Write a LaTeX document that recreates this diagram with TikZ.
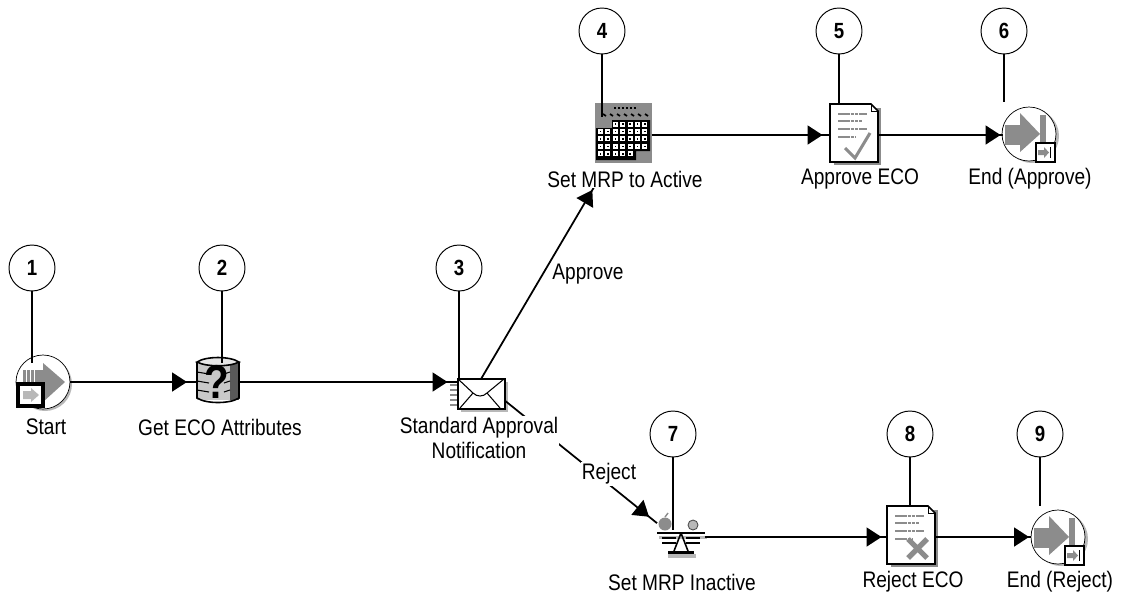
\documentclass[tikz,border=0pt]{standalone}
\usepackage{fontspec}
\setmainfont[FakeStretch=0.85]{Liberation Sans}
\usetikzlibrary{arrows.meta,decorations.markings}
\definecolor{icongray}{gray}{0.55}
\definecolor{shadegray}{gray}{0.72}
\tikzset{
    icon/.style={inner sep=0pt,outer sep=0pt,rectangle},
    callout/.style={draw,circle,line width=0.55pt,minimum size=0.92cm,inner sep=0pt,font=\fontsize{12.5}{12.5}\selectfont\bfseries},
    caption/.style={font=\fontsize{12.8}{14.2}\selectfont,align=center,fill=white,inner sep=0.6pt},
    pin/.style={line width=0.6pt},
    flow/.style={line width=1pt,postaction={decorate},decoration={markings,
        mark=at position -#1 with {\arrow{Triangle[length=0.3cm,width=0.38cm]}}}},
    pics/startico/.style={code={
        \fill[shadegray] (2,2) circle (27);
        \draw[fill=white,line width=0.4pt] (0,0) circle (27);
        \fill[icongray] (-20,-12) rectangle (0,8);
        \fill[icongray] (0,-19) -- (22,0) -- (0,20) -- cycle;
        \foreach \x in {-17,-13,-9} \draw[white,line width=0.5pt] (\x,-12) -- (\x,0);
        \draw[fill=white,line width=2pt] (-25,2) rectangle (0,24);
        \fill[shadegray] (-20,9) rectangle (-12,17) (-12,6) -- (-4,13) -- (-12,20) -- cycle;
    }},
    pics/endico/.style={code={
        \fill[shadegray] (3,2) circle (27);
        \draw[fill=white,line width=0.4pt] (0,0) circle (27);
        \fill[icongray] (-24,-9) rectangle (-8,11);
        \fill[icongray] (-9,-21) -- (11,0) -- (-9,18) -- cycle;
        \fill[icongray] (11,-19) rectangle (17,16);
        \draw[fill=white,line width=1.2pt] (7,9) rectangle (26,28);
        \fill[icongray] (9,16) rectangle (15,21) (15,13) -- (20,18.5) -- (15,24) -- cycle;
        \draw[line width=0.8pt] (21.5,13) -- (21.5,24);
    }},
    pics/dbico/.style={code={
        \fill[shadegray!75] (-21,-18) rectangle (21,20);
        \fill[black!65] (12,-18) rectangle (21,20);
        \foreach \y in {-8,1,10} \draw[line width=0.6pt] (-21,\y) -- (-9,\y+2);
        \foreach \y in {-8,1,10} \draw[line width=0.6pt] (6,\y+2) -- (12,\y);
        \draw[line width=0.9pt] (-21,-18) -- (-21,18) .. controls (-12,24) and (12,24) .. (21,18) -- (21,-18);
        \draw[fill=shadegray!35,line width=0.9pt] (-21,-18) .. controls (-12,-24) and (12,-24) .. (21,-18) .. controls (12,-13) and (-12,-13) .. cycle;
        \node[inner sep=0pt,font=\fontsize{27}{27}\selectfont\bfseries] (dbmark) at (-1,2) {?};
    }},
    pics/envico/.style={code={
        \fill[shadegray] (-20,-12) rectangle (27,18);
        \foreach \y in {-9,-4,1,6,11} \draw[icongray,line width=0.7pt] (-31,\y) -- (-23,\y);
        \draw[fill=white,line width=0.9pt] (-23,-15) rectangle (24,15);
        \draw[line width=0.6pt] (-23,-15) -- (-8,-1) .. controls (-4,3) and (2,3) .. (6,-1) -- (23,-15);
        \draw[line width=0.6pt] (-21,14) -- (-8,-1) (19,14) -- (6,-1);
    }},
    pics/calico/.style={code={
        \fill[icongray] (-28,-30) rectangle (29,30);
        \fill[black] (-11,-13) rectangle (27,-5) (-27,-5) rectangle (27,18) (-27,18) rectangle (13,27);
        \foreach \c in {0,...,6} \foreach \r in {1,2,3}
            \fill[white] (-25+\c*7.4,-4+\r*7.4-7.4) rectangle ++(5,5);
        \foreach \c in {2,...,6} \fill[white] (-25+\c*7.4,-11.4) rectangle ++(5,5);
        \foreach \c in {0,...,4} \fill[white] (-25+\c*7.4,18.2) rectangle ++(5,5);
        \foreach \c in {0,...,6} \foreach \r in {1,2,3}
            \fill[black] (-23.2+\c*7.4,-2.2+\r*7.4-7.4) rectangle ++(1.6,1.6);
        \foreach \c in {2,...,6} \fill[black] (-23.2+\c*7.4,-9.6) rectangle ++(1.6,1.6);
        \foreach \c in {0,...,4} \fill[black] (-23.2+\c*7.4,20) rectangle ++(1.6,1.6);
        \foreach \x in {-9,-5,...,11} \draw[line width=1pt] (\x,-25) -- (\x+2,-25);
        \foreach \x in {-20,-13,...,24} \draw[line width=1pt] (\x,-19) -- (\x+3,-17);
    }},
    pics/docshape/.style={code={
        \fill[icongray] (-20,-25) rectangle (27,32);
        \draw[fill=white,line width=0.9pt] (-24,-29) -- (17,-29) -- (24,-22) -- (24,29) -- (-24,29) -- cycle;
        \draw[line width=0.4pt] (17,-29) -- (17,-22) -- (24,-22);
        \foreach \y/\xe in {-19/13,-12/8,-4/13,4/2}
            \draw[icongray,line width=0.8pt,dash pattern=on 2pt off 0.4pt] (-16,\y) -- (\xe,\y);
    }},
    pics/docokico/.style={code={
        \pic at (0,0) {docshape};
        \draw[icongray,line width=1.7pt] (-9,15) -- (1,25) -- (16,0);
    }},
    pics/docnoico/.style={code={
        \pic at (0,0) {docshape};
        \draw[icongray,line width=3pt] (-3,4) -- (16,23) (16,4) -- (-3,23);
    }},
    pics/scaleico/.style={code={
        \fill[icongray] (-16,-11) circle (6.5);
        \draw[icongray,line width=0.8pt] (-16,-18) -- (-13,-22);
        \draw[black!70,fill=shadegray,line width=0.5pt] (12,-10) circle (5);
        \fill[shadegray] (-22,1) rectangle (26,4);
        \draw[line width=1.6pt] (-24,-2) -- (24,-2);
        \draw[line width=1.2pt] (-19,3) -- (-5,3) (5,3) -- (19,3) (-19,8) -- (-5,8) (5,8) -- (19,8);
        \draw[line width=0.9pt] (0,-2) -- (-7,16) (0,-2) -- (7,16);
        \fill[shadegray] (-13,19) rectangle (15,23);
        \draw[line width=1.7pt] (-13,17) -- (13,17);
    }},
}
\begin{document}
\begin{tikzpicture}[x=0.02cm,y=-0.02cm]
    \useasboundingbox (0,0) rectangle (1124,596);

    % activities
    \node[icon,minimum size=1.08cm] (start) at (43,382) {};
    \node[icon,minimum width=0.84cm,minimum height=0.88cm] (attr) at (218,382) {};
    \node[icon,minimum width=0.94cm,minimum height=0.6cm] (notif) at (481,394) {};
    \node[icon,minimum width=1.14cm,minimum height=1.2cm] (active) at (623,135) {};
    \node[icon,minimum width=0.96cm,minimum height=1.18cm] (approve) at (854,135) {};
    \node[icon,minimum size=1.06cm] (endok) at (1029,135) {};
    \node[icon,minimum width=0.96cm,minimum height=0.8cm] (inactive) at (681,537) {};
    \node[icon,minimum width=0.94cm,minimum height=1.12cm] (reject) at (911,537) {};
    \node[icon,minimum size=1.08cm] (endno) at (1058,537) {};

    \pic at (start) {startico};
    \pic[yshift=0.04cm] at (attr) {dbico};
    \pic at (notif) {envico};
    \pic[yshift=0.04cm] at (active) {calico};
    \pic[yshift=0.04cm] at (approve) {docokico};
    \pic[yshift=0.02cm] at (endok) {endico};
    \pic[yshift=0.04cm] at (inactive) {scaleico};
    \pic[yshift=0.04cm] at (reject) {docnoico};
    \pic at (endno) {endico};

    % transitions
    \draw[flow=0.2cm] (start.east) -- (attr.west);
    \draw[flow=0.2cm] (attr.east) -- (attr.east -| notif.west);
    \draw[flow=0.58cm,shorten >=0.3cm] (notif.north) -- (active.242);
    \draw[flow=0.2cm] (notif.-15) -- (inactive.150);
    \draw[flow=0.15cm] (active.east) -- (approve.west);
    \draw[flow=0.04cm] (approve.east) -- (endok.west);
    \draw[flow=0.12cm] (inactive.east) -- (reject.west);
    \draw[flow=0.04cm] (reject.east) -- (endno.west);

    % captions
    \node[caption] (lblstart) at (46,427) {Start};
    \node[caption] (lblattr) at (220,427) {Get ECO Attributes};
    \node[caption] (lblnotif) at (479,438) {Standard Approval\\Notification};
    \node[caption] (lblactive) at (625,179) {Set MRP to Active};
    \node[caption] (lblapprove) at (860,179) {Approve ECO};
    \node[caption] (lblendok) at (1030,179) {End (Approve)};
    \node[caption] (lblinactive) at (682,582) {Set MRP Inactive};
    \node[caption] (lblreject) at (913,582) {Reject ECO};
    \node[caption] (lblendno) at (1060,582) {End (Reject)};
    \node[caption] (lblyes) at (588,274) {Approve};
    \node[caption] (lblno) at (609,474) {Reject};

    % numbered callouts
    \foreach \n/\x/\y/\e in {1/32/268/363,2/222/268/363,3/459/268/380,4/602/31/117,5/839/31/103,
                             6/1004/31/102,7/673/434/530,8/910/434/507,9/1040/434/506} {
        \node[callout] (num\n) at (\x,\y) {\n};
        \coordinate (tip\n) at (\x,\e);
        \draw[pin] (num\n.south) -- (tip\n);
    }
\end{tikzpicture}
\end{document}
